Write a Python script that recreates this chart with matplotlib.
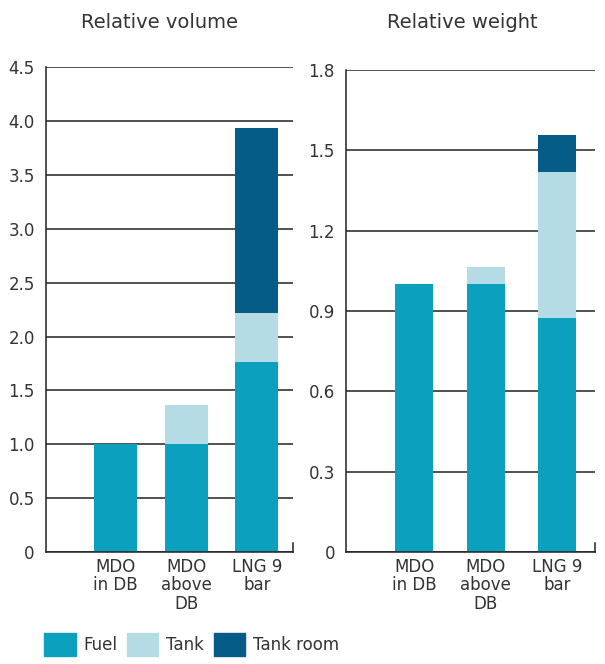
import matplotlib.pyplot as plt
import numpy as np
from matplotlib.patches import Patch

plt.rcParams["font.family"] = ["DejaVu Sans"]

categories = ["MDO\nin DB", "MDO\nabove\nDB", "LNG 9\nbar"]
series = ["Fuel", "Tank", "Tank room"]
colors = ["#0aa0be", "#b5dce5", "#045c87"]

# relative volume
vol_fuel = [1.0, 1.0, 1.76]
vol_tank = [0.0, 0.36, 0.46]
vol_room = [0.0, 0.0, 1.72]
vol_ticks = [0, 0.5, 1.0, 1.5, 2.0, 2.5, 3.0, 3.5, 4.0, 4.5]

# relative weight
wt_fuel = [1.0, 1.0, 0.873]
wt_tank = [0.0, 0.064, 0.547]
wt_room = [0.0, 0.0, 0.136]
wt_ticks = [0, 0.3, 0.6, 0.9, 1.2, 1.5, 1.8]

fig = plt.figure(figsize=(6.05, 6.64), dpi=100)
ax1 = fig.add_axes([0.076, 0.1687, 0.408, 0.730])
ax2 = fig.add_axes([0.572, 0.1687, 0.412, 0.726])


def draw(ax, fuel, tank, room, ticks, width, xlim, fmt):
    x = np.arange(len(categories))
    fuel = np.array(fuel)
    tank = np.array(tank)
    room = np.array(room)
    ax.bar(x, fuel, width, color=colors[0])
    ax.bar(x, tank, width, bottom=fuel, color=colors[1])
    ax.bar(x, room, width, bottom=fuel + tank, color=colors[2])
    ax.set_xlim(*xlim)
    ax.set_ylim(0, ticks[-1])
    ax.set_yticks(ticks)
    ax.set_yticklabels(["0"] + [fmt % t for t in ticks[1:]])
    ax.set_xticks(x)
    ax.set_xticklabels(categories, linespacing=1.05)
    ax.set_axisbelow(True)
    ax.grid(axis="y", color="#222222", linewidth=1.1)
    ax.spines["top"].set_visible(False)
    ax.spines["right"].set_bounds(0, ticks[-1] * 0.018)
    for s in ["left", "bottom", "right"]:
        ax.spines[s].set_color("#222222")
        ax.spines[s].set_linewidth(1.1)
    ax.tick_params(length=0, labelsize=12, labelcolor="#333333")
    ax.tick_params(axis="y", pad=8)
    ax.tick_params(axis="x", pad=4)


draw(ax1, vol_fuel, vol_tank, vol_room, vol_ticks, 0.61, (-0.99, 2.51), "%.1f")
draw(ax2, wt_fuel, wt_tank, wt_room, wt_ticks, 0.53, (-0.95, 2.53), "%.1f")

fig.text(0.263, 0.966, "Relative volume", ha="center", va="center",
         fontsize=14, color="#333333")
fig.text(0.764, 0.966, "Relative weight", ha="center", va="center",
         fontsize=14, color="#333333")

handles = [Patch(color=c) for c in colors]
fig.legend(handles, series, ncol=3, loc="lower left",
           bbox_to_anchor=(0.0727, 0.012), frameon=False,
           borderpad=0, borderaxespad=0,
           handlelength=1.9, handleheight=1.75, handletextpad=0.48,
           columnspacing=0.55, fontsize=12, labelcolor="#333333")

fig.savefig("out.png", dpi=100)
